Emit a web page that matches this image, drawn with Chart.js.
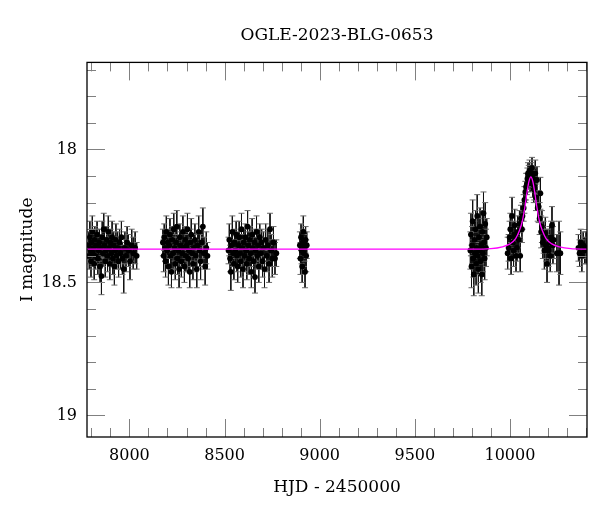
<!DOCTYPE html>
<html>
<head>
<meta charset="utf-8">
<script src="https://cdn.jsdelivr.net/npm/chart.js@4.4.0/dist/chart.umd.min.js"></script>
<style>
  html, body { margin: 0; padding: 0; background: #fff; }
  #wrap { width: 600px; height: 512px; }
</style>
</head>
<body>
<div id="wrap"><canvas id="chart"></canvas></div>
<script>
// observations: [HJD - 2450000, I mag, error]
const season2017 = [
  [7786, 18.36, 0.05], [7789, 18.40, 0.05], [7792, 18.33, 0.06], [7795, 18.38, 0.05],
  [7798, 18.42, 0.06], [7801, 18.35, 0.05], [7805, 18.31, 0.06], [7808, 18.39, 0.05],
  [7811, 18.37, 0.05], [7815, 18.43, 0.06], [7818, 18.34, 0.05], [7822, 18.40, 0.05],
  [7826, 18.36, 0.06], [7830, 18.32, 0.05], [7834, 18.41, 0.06], [7838, 18.38, 0.05],
  [7842, 18.35, 0.05], [7846, 18.44, 0.06], [7850, 18.37, 0.05], [7853, 18.476, 0.07],
  [7857, 18.33, 0.06], [7861, 18.39, 0.05], [7865, 18.30, 0.06], [7869, 18.36, 0.05],
  [7873, 18.42, 0.06], [7877, 18.38, 0.05], [7881, 18.34, 0.05], [7885, 18.40, 0.06],
  [7889, 18.31, 0.06], [7893, 18.37, 0.05], [7897, 18.43, 0.06], [7901, 18.35, 0.05],
  [7905, 18.39, 0.05], [7909, 18.33, 0.06], [7913, 18.41, 0.06], [7917, 18.36, 0.05],
  [7921, 18.44, 0.07], [7925, 18.38, 0.05], [7929, 18.34, 0.06], [7933, 18.40, 0.05],
  [7938, 18.37, 0.06], [7943, 18.42, 0.06], [7948, 18.35, 0.05], [7953, 18.39, 0.06],
  [7958, 18.33, 0.06], [7963, 18.41, 0.06], [7970, 18.45, 0.09], [7976, 18.37, 0.06],
  [7982, 18.40, 0.06], [7988, 18.35, 0.06], [7995, 18.38, 0.06], [8003, 18.42, 0.07],
  [8012, 18.36, 0.06], [8020, 18.39, 0.06], [8030, 18.37, 0.06], [8038, 18.40, 0.05]
];
const season2018 = [
  [8176, 18.35, 0.05], [8180, 18.40, 0.06], [8183, 18.33, 0.05], [8187, 18.37, 0.05],
  [8190, 18.42, 0.06], [8194, 18.31, 0.06], [8198, 18.38, 0.05], [8202, 18.35, 0.05],
  [8205, 18.44, 0.07], [8209, 18.36, 0.05], [8213, 18.32, 0.06], [8217, 18.40, 0.05],
  [8221, 18.46, 0.06], [8225, 18.34, 0.05], [8229, 18.39, 0.06], [8233, 18.30, 0.06],
  [8237, 18.37, 0.05], [8241, 18.43, 0.06], [8245, 18.35, 0.05], [8249, 18.29, 0.06],
  [8253, 18.41, 0.06], [8257, 18.38, 0.05], [8261, 18.45, 0.07], [8265, 18.33, 0.05],
  [8269, 18.36, 0.05], [8273, 18.42, 0.06], [8277, 18.39, 0.05], [8281, 18.31, 0.06],
  [8285, 18.37, 0.05], [8289, 18.44, 0.06], [8293, 18.34, 0.05], [8297, 18.40, 0.06],
  [8301, 18.36, 0.05], [8305, 18.30, 0.06], [8309, 18.41, 0.05], [8313, 18.38, 0.06],
  [8317, 18.46, 0.06], [8321, 18.35, 0.05], [8325, 18.32, 0.06], [8329, 18.39, 0.05],
  [8334, 18.43, 0.06], [8339, 18.37, 0.05], [8344, 18.34, 0.06], [8349, 18.40, 0.06],
  [8354, 18.45, 0.07], [8359, 18.36, 0.05], [8364, 18.31, 0.06], [8369, 18.38, 0.06],
  [8374, 18.42, 0.07], [8380, 18.35, 0.06], [8386, 18.29, 0.07], [8392, 18.39, 0.06],
  [8398, 18.44, 0.07], [8404, 18.37, 0.06], [8410, 18.40, 0.05]
];
const season2019 = [
  [8521, 18.38, 0.05], [8525, 18.34, 0.06], [8529, 18.41, 0.05], [8533, 18.46, 0.07],
  [8537, 18.36, 0.05], [8541, 18.31, 0.06], [8545, 18.39, 0.05], [8549, 18.43, 0.06],
  [8553, 18.35, 0.05], [8557, 18.38, 0.06], [8561, 18.32, 0.05], [8565, 18.40, 0.06],
  [8569, 18.44, 0.06], [8573, 18.36, 0.05], [8577, 18.33, 0.06], [8581, 18.39, 0.05],
  [8585, 18.42, 0.06], [8589, 18.30, 0.06], [8593, 18.37, 0.05], [8597, 18.45, 0.07],
  [8601, 18.35, 0.05], [8605, 18.40, 0.06], [8609, 18.33, 0.05], [8613, 18.38, 0.05],
  [8617, 18.43, 0.06], [8621, 18.29, 0.06], [8625, 18.36, 0.05], [8629, 18.41, 0.06],
  [8633, 18.34, 0.05], [8637, 18.39, 0.05], [8641, 18.46, 0.06], [8645, 18.32, 0.06],
  [8649, 18.37, 0.05], [8653, 18.42, 0.06], [8657, 18.35, 0.05], [8660, 18.48, 0.06],
  [8664, 18.38, 0.05], [8668, 18.31, 0.06], [8672, 18.40, 0.05], [8676, 18.36, 0.06],
  [8680, 18.44, 0.06], [8685, 18.33, 0.05], [8690, 18.39, 0.06], [8695, 18.35, 0.05],
  [8700, 18.42, 0.06], [8705, 18.37, 0.06], [8710, 18.45, 0.07], [8716, 18.34, 0.06],
  [8722, 18.40, 0.06], [8728, 18.36, 0.06], [8734, 18.43, 0.07], [8739, 18.30, 0.06],
  [8745, 18.38, 0.06], [8751, 18.41, 0.07], [8757, 18.35, 0.06], [8765, 18.41, 0.06],
  [8772, 18.39, 0.05]
];
const season2020 = [
  [8896, 18.36, 0.05], [8899, 18.41, 0.06], [8902, 18.33, 0.05], [8905, 18.38, 0.05],
  [8908, 18.44, 0.06], [8911, 18.35, 0.05], [8914, 18.31, 0.06], [8917, 18.39, 0.05],
  [8920, 18.37, 0.05], [8923, 18.46, 0.06], [8926, 18.34, 0.05], [8929, 18.40, 0.06],
  [8932, 18.36, 0.05]
];
const season2022 = [
  [9792, 18.38, 0.07], [9795, 18.32, 0.08], [9798, 18.44, 0.08], [9801, 18.36, 0.07],
  [9804, 18.27, 0.08], [9807, 18.41, 0.07], [9810, 18.47, 0.08], [9813, 18.34, 0.07],
  [9816, 18.39, 0.08], [9819, 18.30, 0.07], [9822, 18.43, 0.08], [9825, 18.37, 0.07],
  [9828, 18.25, 0.08], [9831, 18.40, 0.07], [9834, 18.45, 0.09], [9837, 18.33, 0.07],
  [9840, 18.38, 0.08], [9843, 18.29, 0.07], [9846, 18.42, 0.08], [9849, 18.36, 0.07],
  [9852, 18.47, 0.08], [9855, 18.31, 0.08], [9858, 18.39, 0.07], [9861, 18.24, 0.08],
  [9864, 18.35, 0.07], [9867, 18.41, 0.08], [9870, 18.28, 0.08], [9874, 18.37, 0.07],
  [9878, 18.33, 0.07]
];
const season2023 = [
  [9988, 18.39, 0.06], [9993, 18.37, 0.05], [9998, 18.33, 0.06], [10002, 18.30, 0.06],
  [10006, 18.41, 0.06], [10011, 18.25, 0.07], [10015, 18.35, 0.06], [10019, 18.38, 0.06],
  [10022, 18.32, 0.05], [10025, 18.285, 0.06], [10028, 18.33, 0.05], [10032, 18.40, 0.06],
  [10037, 18.37, 0.05], [10041, 18.31, 0.06], [10046, 18.34, 0.05], [10050, 18.28, 0.05],
  [10054, 18.40, 0.06], [10058, 18.26, 0.05], [10063, 18.30, 0.05], [10066, 18.25, 0.05],
  [10072, 18.22, 0.05], [10076, 18.19, 0.05], [10081, 18.16, 0.04], [10085, 18.14, 0.05],
  [10089, 18.13, 0.04], [10092, 18.11, 0.04], [10095, 18.09, 0.04], [10099, 18.10, 0.04],
  [10103, 18.08, 0.04], [10106, 18.12, 0.04], [10110, 18.10, 0.04], [10113, 18.09, 0.04],
  [10116, 18.07, 0.04], [10119, 18.13, 0.05], [10121, 18.11, 0.04], [10125, 18.15, 0.05],
  [10128, 18.14, 0.05], [10133, 18.09, 0.05], [10137, 18.18, 0.05], [10142, 18.115, 0.05],
  [10146, 18.22, 0.05], [10151, 18.215, 0.06], [10156, 18.26, 0.06], [10160, 18.165, 0.06],
  [10164, 18.31, 0.06], [10168, 18.29, 0.06], [10173, 18.35, 0.06], [10177, 18.33, 0.06],
  [10181, 18.38, 0.07], [10186, 18.315, 0.06], [10190, 18.36, 0.06], [10195, 18.43, 0.07],
  [10199, 18.37, 0.07], [10203, 18.38, 0.06], [10208, 18.35, 0.06], [10212, 18.40, 0.06],
  [10216, 18.33, 0.06], [10221, 18.285, 0.07], [10226, 18.36, 0.07], [10230, 18.34, 0.07],
  [10247, 18.39, 0.07], [10258, 18.39, 0.12], [10265, 18.39, 0.08]
];
const season2024 = [
  [10360, 18.37, 0.05], [10366, 18.39, 0.05], [10372, 18.35, 0.05], [10378, 18.40, 0.06],
  [10385, 18.36, 0.05], [10392, 18.38, 0.05], [10400, 18.37, 0.06]
];

// model curve
const modelHjd = [7777, 9800, 9900, 9960, 10000, 10030, 10050, 10065, 10080, 10090, 10100,
  10110, 10120, 10130, 10140, 10155, 10170, 10190, 10220, 10260, 10320, 10405];
const modelMag = [18.375, 18.375, 18.373, 18.366, 18.355, 18.335, 18.305, 18.27, 18.21, 18.16, 18.12,
  18.103, 18.12, 18.16, 18.21, 18.27, 18.305, 18.335, 18.355, 18.366, 18.373, 18.375];

const xMajorTicks = [8000, 8500, 9000, 9500, 10000];
const xMinorTicks = [7800, 7900, 8000, 8100, 8200, 8300, 8400, 8500, 8600, 8700, 8800, 8900, 9000,
  9100, 9200, 9300, 9400, 9500, 9600, 9700, 9800, 9900, 10000, 10100, 10200, 10300, 10400];
const yMajorTicks = [18, 18.5, 19];
const yMinorTicks = [17.7, 17.8, 17.9, 18, 18.1, 18.2, 18.3, 18.4, 18.5, 18.6, 18.7, 18.8, 18.9, 19];

const obs = [].concat(season2017, season2018, season2019, season2020, season2022, season2023, season2024);

const pointData = obs.map(p => ({ x: p[0], y: p[1] }));
const barData = [];
const capData = [];
obs.forEach(p => {
    barData.push({ x: p[0], y: p[1] - p[2] });
    barData.push({ x: p[0], y: p[1] + p[2] });
    barData.push({ x: p[0], y: null });
    capData.push({ x: p[0], y: p[1] - p[2] });
    capData.push({ x: p[0], y: p[1] + p[2] });
});
const modelData = modelHjd.map((t, i) => ({ x: t, y: modelMag[i] }));

// inward ticks on all four sides + black frame
const framePlugin = {
    id: 'frame',
    afterDatasetsDraw(chart) {
        const { ctx, chartArea: a, scales: { x, y } } = chart;
        ctx.save();
        ctx.strokeStyle = '#808080';
        ctx.lineWidth = 1;
        ctx.beginPath();
        xMinorTicks.forEach(v => {
            const px = Math.round(x.getPixelForValue(v)) + 0.5;
            const len = xMajorTicks.includes(v) ? 18 : 9;
            ctx.moveTo(px, a.bottom); ctx.lineTo(px, a.bottom - len);
            ctx.moveTo(px, a.top); ctx.lineTo(px, a.top + len);
        });
        yMinorTicks.forEach(v => {
            const py = Math.round(y.getPixelForValue(v)) + 0.5;
            const len = yMajorTicks.includes(v) ? 18 : 9;
            ctx.moveTo(a.left, py); ctx.lineTo(a.left + len, py);
            ctx.moveTo(a.right, py); ctx.lineTo(a.right - len, py);
        });
        ctx.stroke();
        ctx.strokeStyle = '#000';
        ctx.lineWidth = 1.3;
        ctx.strokeRect(a.left, a.top, a.right - a.left, a.bottom - a.top);
        ctx.restore();
    }
};

const serif = 'DejaVu Serif';

new Chart(document.getElementById('chart'), {
    type: 'scatter',
    data: {
        datasets: [
            {
                label: 'model',
                data: modelData,
                showLine: true,
                borderColor: '#ff00ff',
                borderWidth: 1.3,
                pointRadius: 0,
                cubicInterpolationMode: 'monotone',
                order: 0
            },
            {
                label: 'OGLE',
                data: pointData,
                pointRadius: 2.9,
                pointBackgroundColor: '#000',
                pointBorderWidth: 0,
                order: 1
            },
            {
                label: 'caps',
                data: capData,
                pointStyle: 'line',
                pointRadius: 3,
                pointBorderColor: '#6a6a6a',
                pointBorderWidth: 1,
                order: 2
            },
            {
                label: 'errors',
                data: barData,
                showLine: true,
                spanGaps: false,
                borderColor: '#111',
                borderWidth: 1,
                pointRadius: 0,
                order: 3
            }
        ]
    },
    options: {
        responsive: true,
        maintainAspectRatio: false,
        animation: false,
        layout: { padding: { left: 0, right: 13, top: 0, bottom: 0 } },
        plugins: {
            legend: { display: false },
            tooltip: { enabled: false },
            title: {
                display: true,
                text: 'OGLE-2023-BLG-0653',
                fullSize: false,
                color: '#000',
                font: { family: serif, size: 17, weight: 'normal' },
                padding: { top: 25, bottom: 17 }
            }
        },
        scales: {
            x: {
                type: 'linear',
                min: 7777,
                max: 10405,
                grid: { display: false, drawTicks: false },
                border: { display: false },
                afterBuildTicks: s => { s.ticks = xMajorTicks.map(v => ({ value: v })); },
                afterFit: s => { s.height = 75; },
                ticks: {
                    padding: 9,
                    color: '#000',
                    font: { family: serif, size: 16 },
                    callback: v => String(v)
                },
                title: {
                    display: true,
                    text: 'HJD - 2450000',
                    color: '#000',
                    font: { family: serif, size: 17 },
                    padding: { top: 0, bottom: 14 }
                }
            },
            y: {
                type: 'linear',
                reverse: true,
                min: 17.673,
                max: 19.081,
                grid: { display: false, drawTicks: false },
                border: { display: false },
                afterBuildTicks: s => { s.ticks = yMajorTicks.map(v => ({ value: v })); },
                afterFit: s => { s.width = 87; },
                ticks: {
                    padding: 10,
                    color: '#000',
                    font: { family: serif, size: 16 },
                    callback: v => String(v)
                },
                title: {
                    display: true,
                    text: 'I magnitude',
                    color: '#000',
                    font: { family: serif, size: 17 },
                    padding: { top: 17, bottom: 0 }
                }
            }
        }
    },
    plugins: [framePlugin]
});
</script>
</body>
</html>
